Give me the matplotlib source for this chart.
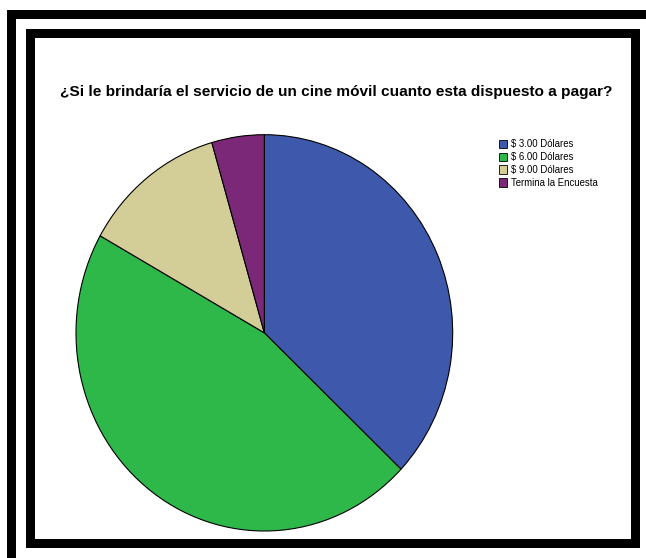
import matplotlib
matplotlib.use("Agg")
import matplotlib.pyplot as plt
from matplotlib.patches import Rectangle

# Survey answers and respondent counts
categories = ["$ 3.00 Dólares", "$ 6.00 Dólares", "$ 9.00 Dólares", "Termina la Encuesta"]
counts = [33, 41, 11, 4]
colors = ["#3e58ac", "#2fb84a", "#d3ce97", "#7a2877"]
title = "¿Si le brindaría el servicio de un cine móvil cuanto esta dispuesto a pagar?"

W, H = 646, 558
fig = plt.figure(figsize=(W / 100, H / 100), dpi=100)
fig.patch.set_facecolor("white")


def band(x0, y0, x1, y1):
    """Black band given in pixel coordinates measured from the top-left."""
    fig.add_artist(Rectangle((x0 / W, 1 - y1 / H), (x1 - x0) / W, (y1 - y0) / H,
                             transform=fig.transFigure, facecolor="black",
                             edgecolor="none", zorder=10))


# outer frame (top and left bands)
band(7, 10, 646, 19)
band(7, 10, 16, 558)
# inner frame
t = 9
band(26, 29, 640, 29 + t)
band(26, 548 - t, 640, 548)
band(26, 29, 26 + t, 548)
band(640 - t, 29, 640, 548)

# pie area
px0, px1, py0, py1 = 76, 452.7, 134.7, 531
ax = fig.add_axes([px0 / W, 1 - py1 / H, (px1 - px0) / W, (py1 - py0) / H])
wedges, _ = ax.pie(counts, colors=colors, startangle=90, counterclock=False,
                   radius=1.0,
                   wedgeprops=dict(edgecolor="black", linewidth=0.8))
ax.set_aspect("auto")
ax.set_xlim(-1, 1)
ax.set_ylim(-1, 1)
ax.axis("off")

fig.text(336.5 / W, 1 - 92 / H, title, ha="center", va="center",
         fontsize=11.1, fontweight="bold", family=["Liberation Sans", "DejaVu Sans"])

leg = fig.legend(wedges, categories, loc="upper left",
                 bbox_to_anchor=(492 / W, 1 - 132.5 / H), frameon=False,
                 prop=dict(family=["Liberation Sans", "DejaVu Sans"], size=6.9),
                 handlelength=0.82, handleheight=1.0, handletextpad=0.45,
                 labelspacing=0.3, borderpad=0.2)
for h in leg.legend_handles:
    h.set_linewidth(0.6)

fig.savefig("out.png", dpi=100)
